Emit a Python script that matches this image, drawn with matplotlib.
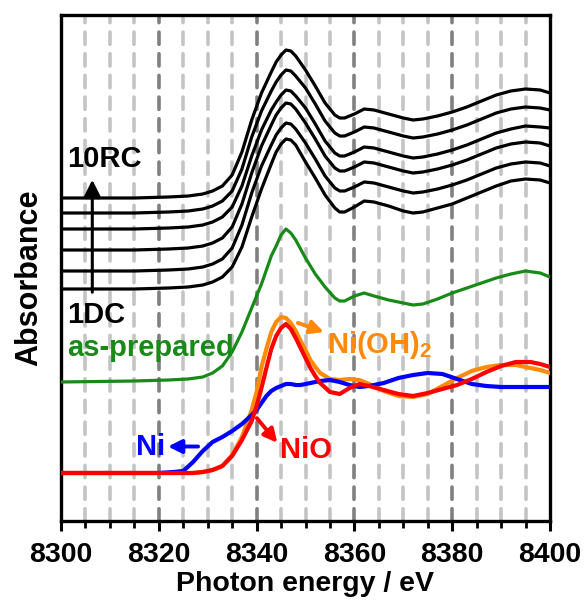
import numpy as np
import matplotlib
matplotlib.use("Agg")
import matplotlib.pyplot as plt

plt.rcParams["font.family"] = ["Liberation Sans", "DejaVu Sans"]
plt.rcParams["font.weight"] = "bold"
plt.rcParams["mathtext.fontset"] = "custom"
plt.rcParams["mathtext.rm"] = "Liberation Sans:bold"
plt.rcParams["mathtext.bf"] = "Liberation Sans:bold"

# energy grid of the operando spectra (eV)
energy = [8300, 8315, 8322, 8326, 8329, 8331, 8333, 8335, 8337, 8339, 8341, 8343, 8344,
          8345, 8346, 8347, 8348, 8350, 8352, 8354, 8356, 8357, 8358, 8360, 8362, 8364,
          8367, 8370, 8372, 8374, 8377, 8380, 8383, 8386, 8389, 8392, 8395, 8398, 8400]

# stacked absorbance (a.u., offset), bottom (1DC) to top (10RC)
cycle_1 = [2.32, 2.32, 2.33, 2.34, 2.36, 2.39, 2.44, 2.54, 2.74, 3.04, 3.32, 3.57, 3.69,
           3.77, 3.82, 3.81, 3.76, 3.59, 3.43, 3.26, 3.13, 3.09, 3.09, 3.14, 3.20, 3.19,
           3.15, 3.10, 3.08, 3.09, 3.13, 3.17, 3.23, 3.29, 3.35, 3.40, 3.42, 3.41, 3.38]
cycle_2 = [2.50, 2.50, 2.51, 2.52, 2.54, 2.57, 2.62, 2.73, 2.96, 3.28, 3.55, 3.76, 3.86,
           3.93, 3.98, 3.97, 3.92, 3.78, 3.62, 3.45, 3.33, 3.30, 3.30, 3.34, 3.39, 3.38,
           3.34, 3.30, 3.28, 3.29, 3.32, 3.36, 3.41, 3.47, 3.53, 3.57, 3.59, 3.58, 3.55]
cycle_3 = [2.71, 2.71, 2.72, 2.73, 2.75, 2.78, 2.83, 2.94, 3.17, 3.48, 3.75, 3.96, 4.06,
           4.13, 4.18, 4.17, 4.12, 3.98, 3.82, 3.65, 3.53, 3.50, 3.50, 3.54, 3.59, 3.58,
           3.54, 3.50, 3.48, 3.49, 3.52, 3.56, 3.61, 3.67, 3.73, 3.77, 3.79, 3.78, 3.75]
cycle_4 = [2.92, 2.92, 2.93, 2.94, 2.96, 2.99, 3.04, 3.14, 3.35, 3.65, 3.91, 4.11, 4.19,
           4.26, 4.31, 4.30, 4.25, 4.13, 3.97, 3.80, 3.68, 3.65, 3.65, 3.69, 3.74, 3.73,
           3.69, 3.65, 3.63, 3.64, 3.67, 3.71, 3.76, 3.82, 3.88, 3.92, 3.95, 3.94, 3.93]
cycle_5 = [3.08, 3.08, 3.09, 3.10, 3.12, 3.15, 3.20, 3.30, 3.52, 3.84, 4.10, 4.30, 4.39,
           4.46, 4.51, 4.50, 4.45, 4.33, 4.17, 4.00, 3.88, 3.85, 3.85, 3.89, 3.94, 3.93,
           3.89, 3.85, 3.83, 3.84, 3.87, 3.91, 3.96, 4.02, 4.08, 4.12, 4.14, 4.13, 4.11]
cycle_6 = [3.23, 3.23, 3.24, 3.25, 3.27, 3.30, 3.35, 3.46, 3.69, 4.01, 4.28, 4.49, 4.59,
           4.66, 4.71, 4.70, 4.65, 4.51, 4.35, 4.18, 4.06, 4.03, 4.03, 4.07, 4.12, 4.11,
           4.07, 4.03, 4.01, 4.02, 4.05, 4.09, 4.14, 4.20, 4.26, 4.30, 4.32, 4.31, 4.28]
as_prepared = [1.39, 1.40, 1.41, 1.42, 1.44, 1.48, 1.55, 1.69, 1.89, 2.13, 2.37, 2.65, 2.75,
               2.86, 2.92, 2.88, 2.81, 2.63, 2.47, 2.34, 2.23, 2.20, 2.20, 2.25, 2.28, 2.25,
               2.21, 2.18, 2.16, 2.17, 2.22, 2.28, 2.33, 2.38, 2.43, 2.47, 2.50, 2.48, 2.44]

# reference spectra
energy_ref = [8300, 8315, 8320, 8323, 8325, 8327, 8329, 8331, 8333, 8335, 8337, 8339, 8340,
              8341, 8342, 8343, 8344, 8345, 8346, 8347, 8348, 8349, 8350, 8351, 8352, 8353,
              8355, 8357, 8359, 8361, 8363, 8366, 8369, 8372, 8375, 8378, 8381, 8384, 8387,
              8390, 8393, 8396, 8398, 8400]
ni_foil = [0.48, 0.48, 0.48, 0.49, 0.50, 0.59, 0.70, 0.79, 0.84, 0.90, 0.97, 1.06, 1.11,
           1.18, 1.25, 1.30, 1.33, 1.35, 1.37, 1.37, 1.36, 1.36, 1.37, 1.38, 1.39, 1.40,
           1.41, 1.39, 1.36, 1.34, 1.35, 1.38, 1.43, 1.46, 1.48, 1.47, 1.42, 1.37, 1.35,
           1.34, 1.34, 1.34, 1.34, 1.34]
ni_oh2 = [0.48, 0.48, 0.48, 0.48, 0.48, 0.48, 0.49, 0.51, 0.55, 0.66, 0.84, 1.11, 1.29,
          1.54, 1.72, 1.89, 1.99, 2.04, 2.03, 1.98, 1.90, 1.80, 1.71, 1.61, 1.54, 1.48,
          1.42, 1.41, 1.42, 1.41, 1.37, 1.30, 1.25, 1.24, 1.27, 1.35, 1.43, 1.50, 1.54,
          1.56, 1.56, 1.53, 1.51, 1.48]
nio = [0.48, 0.48, 0.48, 0.48, 0.48, 0.48, 0.49, 0.51, 0.55, 0.65, 0.81, 1.00, 1.15,
       1.33, 1.53, 1.72, 1.85, 1.93, 1.97, 1.92, 1.83, 1.73, 1.63, 1.53, 1.45, 1.38,
       1.29, 1.27, 1.33, 1.37, 1.35, 1.31, 1.27, 1.25, 1.28, 1.32, 1.36, 1.42, 1.49,
       1.55, 1.59, 1.59, 1.57, 1.54]

GREEN, ORANGE, BLUE, RED = "#188a18", "#ff8a0a", "#0000ff", "#ff0000"

fig = plt.figure(figsize=(5.85, 6.0), dpi=100)
ax = fig.add_axes([61 / 585, 1 - 521 / 600, 489 / 585, 506 / 600])

# dashed vertical guides every 5 eV
for e in range(8305, 8400, 5):
    major = (e - 8300) % 20 == 0
    ax.axvline(e, color="#808080" if major else "#c4c4c4", lw=2.6,
               ls=(0, (3.4, 2.6)), dash_capstyle="round", zorder=0)

for s in [cycle_1, cycle_2, cycle_3, cycle_4, cycle_5, cycle_6]:
    ax.plot(energy, s, color="black", lw=2.3, zorder=3, solid_joinstyle="round")
ax.plot(energy, as_prepared, color=GREEN, lw=2.3, zorder=3, solid_joinstyle="round")
ax.plot(energy_ref, ni_oh2, color=ORANGE, lw=3.0, zorder=3, solid_joinstyle="round")
ax.plot(energy_ref, ni_foil, color=BLUE, lw=3.0, zorder=3, solid_joinstyle="round")
ax.plot(energy_ref, nio, color=RED, lw=3.0, zorder=4, solid_joinstyle="round")

# labels and arrows
fs = 21
ax.text(8301.3, 3.62, "10RC", fontsize=fs, fontweight="bold", ha="left", va="center")
ax.text(8301.3, 2.06, "1DC", fontsize=fs, fontweight="bold", ha="left", va="center")
ax.text(8301.3, 1.73, "as-prepared", fontsize=fs, fontweight="bold", color=GREEN,
        ha="left", va="center")
ax.annotate("", xy=(8306.4, 3.44), xytext=(8306.4, 2.26),
            arrowprops=dict(arrowstyle="-|>", color="black", lw=2.2, mutation_scale=26))

ax.text(8315.3, 0.74, "Ni", fontsize=fs, fontweight="bold", color=BLUE, ha="left", va="center")
ax.annotate("", xy=(8321.3, 0.745), xytext=(8328.6, 0.745),
            arrowprops=dict(arrowstyle="-|>", color=BLUE, lw=2.8, mutation_scale=20))

ax.text(8344.8, 0.71, "NiO", fontsize=fs, fontweight="bold", color=RED, ha="left", va="center")
ax.annotate("", xy=(8344.6, 0.76), xytext=(8339.7, 1.05),
            arrowprops=dict(arrowstyle="-|>", color=RED, lw=2.8, mutation_scale=20))

ax.text(8354.4, 1.76, r"Ni(OH)$_\mathbf{2}$", fontsize=fs, fontweight="bold", color=ORANGE,
        ha="left", va="center")
ax.annotate("", xy=(8354.3, 1.88), xytext=(8347.9, 1.99),
            arrowprops=dict(arrowstyle="-|>", color=ORANGE, lw=2.8, mutation_scale=20))

ax.set_xlim(8300, 8400)
ax.set_ylim(0, 5.06)
ax.set_xticks(range(8300, 8401, 20))
ax.set_xticks(range(8300, 8401, 5), minor=True)
ax.set_yticks([])
ax.tick_params(axis="x", which="major", direction="out", length=7, width=2.2,
               labelsize=20.5, pad=8)
ax.tick_params(axis="x", which="minor", direction="out", length=5, width=2.0)
for lab in ax.get_xticklabels():
    lab.set_fontweight("bold")
for sp in ax.spines.values():
    sp.set_linewidth(2.4)

ax.set_xlabel("Photon energy / eV", fontsize=20.5, fontweight="bold", labelpad=2)
ax.set_ylabel("Absorbance", fontsize=22, fontweight="bold")
ax.yaxis.set_label_coords(-0.035, 0.48)

fig.savefig("out.png", dpi=100)
